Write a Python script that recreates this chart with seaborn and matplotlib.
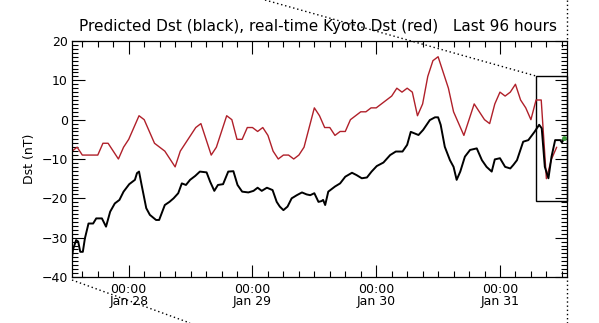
import numpy as np
import pandas as pd
import matplotlib
matplotlib.use("Agg")
import matplotlib.pyplot as plt
import matplotlib.dates as mdates
from matplotlib.lines import Line2D
from matplotlib.patches import Rectangle
import seaborn as sns

# time axis: last 96 hours, starting Jan 27 13:00
t0 = pd.Timestamp("2025-01-27 13:00")
t_end = t0 + pd.Timedelta(hours=96)

# real-time Kyoto Dst (red), hourly values
kyoto_dst = [-8, -7, -9, -9, -9, -9, -6, -6, -8, -10,
             -7, -5, -2, 1, 0, -3, -6, -7, -8, -10,
             -12, -8, -6, -4, -2, -1, -5, -9, -7, -3,
             1, 0, -5, -5, -2, -2, -3, -2, -4, -8,
             -10, -9, -9, -10, -9, -7, -2, 3, 1, -2,
             -2, -4, -3, -3, 0, 1, 2, 2, 3, 3,
             4, 5, 6, 8, 7, 8, 7, 1, 4, 11,
             15, 16, 12, 8, 2, -1, -4, 0, 4, 2,
             0, -1, 4, 7, 6, 7, 9, 5, 3, 0,
             5, 5, -15, -10, -7]

# predicted Dst (black), hours after start and value
pred_hours = [0.0, 0.2, 0.8, 1.2, 1.6, 2.1, 2.5, 3.2, 4.1, 4.7,
              5.8, 6.6, 7.4, 8.3, 9.2, 10.0, 11.1, 12.2, 12.6, 13.0,
              13.5, 14.4, 15.1, 16.3, 16.9, 18.0, 18.9, 19.7, 20.6, 21.3,
              22.1, 22.9, 23.9, 24.8, 26.1, 26.8, 27.6, 28.3, 29.3, 30.3,
              31.3, 32.1, 33.0, 34.2, 35.2, 36.0, 36.8, 37.8, 38.9, 39.7,
              40.3, 41.0, 41.8, 42.6, 43.6, 44.6, 45.5, 46.2, 47.0, 47.8,
              48.4, 48.7, 49.1, 49.7, 51.0, 52.0, 53.0, 54.3, 55.2, 56.2,
              57.2, 58.1, 59.1, 60.4, 61.7, 62.8, 64.1, 65.0, 65.7, 67.2,
              68.1, 69.4, 70.4, 71.0, 71.5, 72.3, 73.3, 74.0, 74.6, 75.3,
              76.2, 77.2, 78.5, 79.5, 80.4, 81.4, 82.0, 83.0, 84.0, 85.0,
              85.6, 86.3, 87.5, 88.5, 89.7, 90.6, 91.1, 91.7, 92.4, 93.0,
              93.7, 94.7, 95.0, 95.5]
pred_dst = [-35, -33, -30.6, -31, -33.6, -33.6, -30.2, -26.4, -26.4, -25.1,
            -25.1, -27.2, -23.4, -21.3, -20.4, -18.3, -16.4, -15.3, -13.6, -13.2,
            -16.6, -22.5, -24.2, -25.5, -25.5, -21.7, -20.9, -20.0, -18.7, -16.2,
            -16.6, -15.3, -14.3, -13.2, -13.4, -15.8, -18.1, -16.6, -16.4, -13.2,
            -13.1, -16.6, -18.3, -18.5, -18.1, -17.3, -18.1, -17.3, -17.9, -20.9,
            -22.1, -23.0, -22.1, -20.0, -19.2, -18.5, -19.0, -19.2, -18.7, -20.9,
            -20.7, -20.4, -21.7, -18.3, -17.0, -16.2, -14.5, -13.5, -14.1, -14.9,
            -14.7, -13.2, -11.8, -10.9, -9.0, -8.1, -8.1, -6.4, -3.1, -3.9,
            -2.6, -0.1, 0.6, 0.6, -1.3, -6.9, -10.3, -12.0, -15.3, -13.2,
            -9.4, -7.7, -7.3, -10.3, -12.0, -13.2, -10.1, -9.8, -12.0, -12.4,
            -11.5, -10.3, -5.6, -5.2, -3.1, -1.3, -2.2, -12.0, -14.9, -9.4,
            -5.2, -5.2, -5.8, -4.7]

# latest prediction point (green)
latest_hour = 95.5
latest_dst = -4.7

# zoom box (hours, nT)
box_hours = [89.9, 96.0]
box_dst = [-20.7, 11.0]

kyoto_time = t0 + pd.to_timedelta(np.arange(len(kyoto_dst)), unit="h")
pred_time = t0 + pd.to_timedelta(pred_hours, unit="h")

sns.set_style("white")
plt.rcParams['font.family'] = ['DejaVu Sans']
plt.rcParams['text.color'] = 'black'
plt.rcParams['axes.labelcolor'] = 'black'
plt.rcParams['xtick.color'] = 'black'
plt.rcParams['ytick.color'] = 'black'

fig = plt.figure(figsize=(5.99, 3.23), dpi=100)
ax = fig.add_axes([72 / 599, 46 / 323, 495 / 599, 236 / 323])

sns.lineplot(x=kyoto_time, y=kyoto_dst, color="#b0202a", linewidth=1.0, ax=ax)
sns.lineplot(x=pred_time, y=pred_dst, color="black", linewidth=1.4, ax=ax)
ax.plot([t0 + pd.Timedelta(hours=latest_hour)], [latest_dst], marker="o",
        markersize=2.5, color="#3a9a3a", linestyle="none")

bx0 = mdates.date2num(t0 + pd.Timedelta(hours=box_hours[0]))
bx1 = mdates.date2num(t0 + pd.Timedelta(hours=box_hours[1]))
ax.add_patch(Rectangle((bx0, box_dst[0]), bx1 - bx0, box_dst[1] - box_dst[0],
                       fill=False, edgecolor="black", linewidth=1.0, clip_on=False))

ax.set_xlim(t0, t_end)
ax.set_ylim(-40, 20)
ax.xaxis.set_major_locator(mdates.DayLocator())
ax.xaxis.set_minor_locator(mdates.HourLocator(byhour=range(0, 24, 3)))
ax.xaxis.set_major_formatter(mdates.DateFormatter("%H:%M\n%b %d"))
ax.set_yticks([-40, -30, -20, -10, 0, 10, 20])
ax.set_yticks(np.arange(-40, 21, 1), minor=True)
ax.tick_params(which="both", direction="in", top=True, right=True,
               bottom=True, left=True, width=0.8, color="black")
ax.tick_params(which="major", length=9, labelsize=9, pad=3, labelcolor="black")
ax.tick_params(which="minor", length=4.5)
ax.tick_params(axis="x", which="major", pad=4)
for lab in ax.get_xticklabels():
    lab.set_linespacing(0.9)
for s in ax.spines.values():
    s.set_color("black")
    s.set_linewidth(0.9)

ax.set_xlabel("")
ax.set_ylabel("Dst (nT)", fontsize=9, labelpad=4, color="black")
fig.text(318 / 599, 1 - 27 / 323, "Predicted Dst (black), real-time Kyoto Dst (red)   Last 96 hours",
         ha="center", va="center", fontsize=11, color="black")

# dotted connector lines of the zoom box
def px(x, y):
    return x / 599, 1 - y / 323

for (x0, y0), (x1, y1) in [((265, 0), (536, 76)), ((72, 280), (190, 323)),
                           ((567, 0), (567, 41)), ((567, 280), (567, 323))]:
    a, b = px(x0, y0)
    c, d = px(x1, y1)
    fig.add_artist(Line2D([a, c], [b, d], transform=fig.transFigure,
                          color="black", linestyle=(0, (1, 2)), linewidth=1.0))

fig.savefig("out.png", dpi=100)
